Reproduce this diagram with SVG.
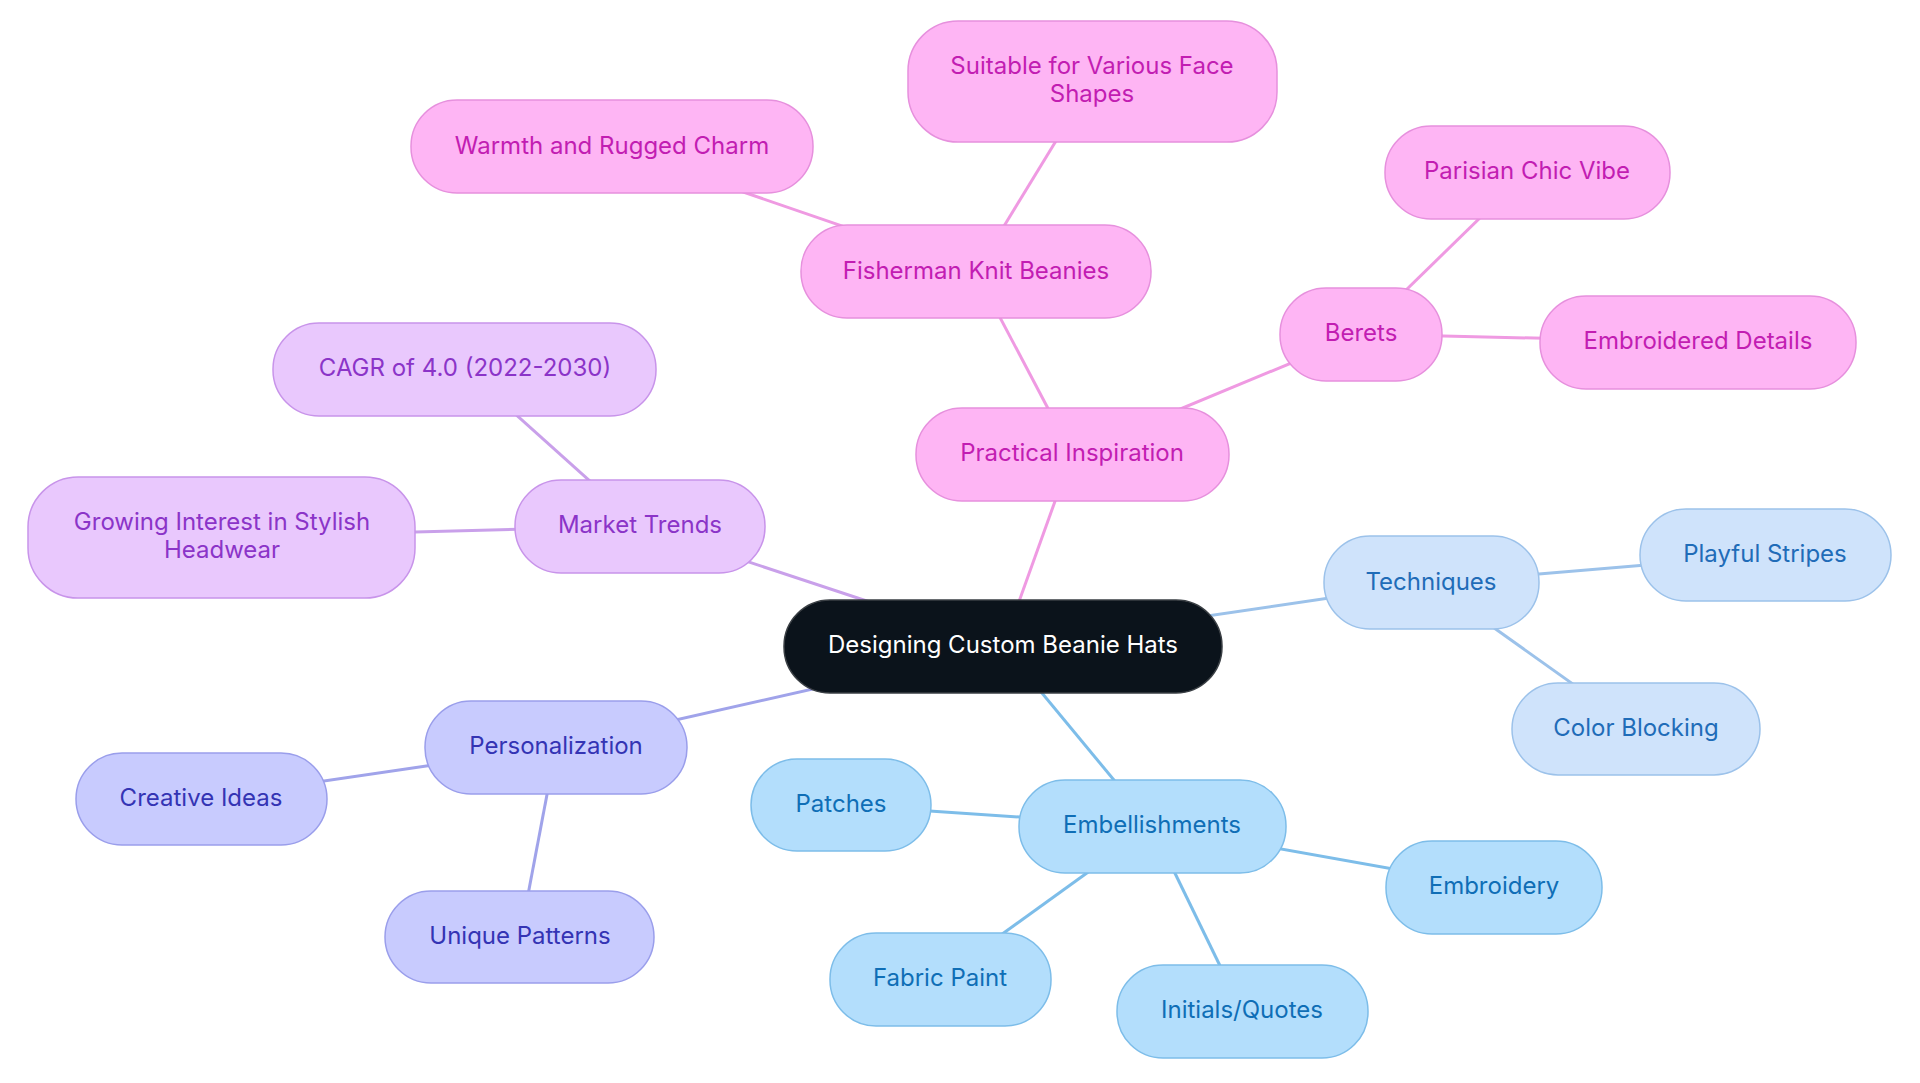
<svg xmlns="http://www.w3.org/2000/svg" width="1920" height="1083" viewBox="0 0 1920 1083">
<style>
text{font-family:Inter,"Open Sans","Liberation Sans",sans-serif;font-size:24px;text-anchor:middle;dominant-baseline:central;transform:translateY(-1.5px)}
.e{fill:none;stroke-width:3}
.pk rect{fill:#feb5f4;stroke:#e690dd;stroke-width:1.5}.pk text{fill:#c21db2}
.pu rect{fill:#e9c8fd;stroke:#c894ea;stroke-width:1.5}.pu text{fill:#8b34c8}
.in rect{fill:#c8cbfe;stroke:#9a9eeb;stroke-width:1.5}.in text{fill:#3434b4}
.lb rect{fill:#cfe3fb;stroke:#9cc2ea;stroke-width:1.5}.lb text{fill:#1f6cb8}
.sb rect{fill:#b3defc;stroke:#7dbde9;stroke-width:1.5}.sb text{fill:#0f6eb6}
</style>
<rect width="1920" height="1083" fill="#ffffff"/>
<g id="connectors">
<g stroke="#ef9ae2" class="e">
<line x1="1003" y1="646" x2="1072" y2="454"/>
<line x1="1072" y1="454" x2="976" y2="272"/>
<line x1="976" y1="272" x2="612" y2="147"/>
<line x1="976" y1="272" x2="1092" y2="82"/>
<line x1="1072" y1="454" x2="1361" y2="334"/>
<line x1="1361" y1="334" x2="1527" y2="172"/>
<line x1="1361" y1="334" x2="1698" y2="342"/>
</g>
<g stroke="#c9a0ea" class="e">
<line x1="1003" y1="646" x2="640" y2="526"/>
<line x1="640" y1="526" x2="465" y2="369"/>
<line x1="640" y1="526" x2="222" y2="537"/>
</g>
<g stroke="#a0a3ea" class="e">
<line x1="1003" y1="646" x2="556" y2="747"/>
<line x1="556" y1="747" x2="201" y2="799"/>
<line x1="556" y1="747" x2="520" y2="937"/>
</g>
<g stroke="#9cc2ea" class="e">
<line x1="1003" y1="646" x2="1431" y2="583"/>
<line x1="1431" y1="583" x2="1765" y2="555"/>
<line x1="1431" y1="583" x2="1636" y2="729"/>
</g>
<g stroke="#7dbde9" class="e">
<line x1="1003" y1="646" x2="1152" y2="826"/>
<line x1="1152" y1="826" x2="1494" y2="887"/>
<line x1="1152" y1="826" x2="1242" y2="1011"/>
<line x1="1152" y1="826" x2="841" y2="805"/>
<line x1="1152" y1="826" x2="940" y2="979"/>
</g>
</g>
<g id="center"><rect x="784" y="600" width="438" height="93" rx="46" fill="#0b131b" stroke="#3a3f44" stroke-width="1.5"/><text x="1003" y="646" fill="#ffffff">Designing Custom Beanie Hats</text></g>
<g id="practical" class="pk"><rect x="916" y="408" width="313" height="93" rx="46"/><text x="1072" y="454">Practical Inspiration</text></g>
<g id="fisherman" class="pk"><rect x="801" y="225" width="350" height="93" rx="46"/><text x="976" y="272">Fisherman Knit Beanies</text></g>
<g id="warmth" class="pk"><rect x="411" y="100" width="402" height="93" rx="46"/><text x="612" y="147">Warmth and Rugged Charm</text></g>
<g id="suitable" class="pk"><rect x="908" y="21" width="369" height="121" rx="50"/><text x="1092" y="67">Suitable for Various Face</text><text x="1092" y="95">Shapes</text></g>
<g id="berets" class="pk"><rect x="1280" y="288" width="162" height="93" rx="46"/><text x="1361" y="334">Berets</text></g>
<g id="parisian" class="pk"><rect x="1385" y="126" width="285" height="93" rx="46"/><text x="1527" y="172">Parisian Chic Vibe</text></g>
<g id="embroidered" class="pk"><rect x="1540" y="296" width="316" height="93" rx="46"/><text x="1698" y="342">Embroidered Details</text></g>
<g id="market" class="pu"><rect x="515" y="480" width="250" height="93" rx="46"/><text x="640" y="526">Market Trends</text></g>
<g id="cagr" class="pu"><rect x="273" y="323" width="383" height="93" rx="46"/><text x="465" y="369">CAGR of 4.0 (2022-2030)</text></g>
<g id="growing" class="pu"><rect x="28" y="477" width="387" height="121" rx="50"/><text x="222" y="523">Growing Interest in Stylish</text><text x="222" y="551">Headwear</text></g>
<g id="personalization" class="in"><rect x="425" y="701" width="262" height="93" rx="46"/><text x="556" y="747">Personalization</text></g>
<g id="creative" class="in"><rect x="76" y="753" width="251" height="92" rx="46"/><text x="201" y="799">Creative Ideas</text></g>
<g id="unique" class="in"><rect x="385" y="891" width="269" height="92" rx="46"/><text x="520" y="937">Unique Patterns</text></g>
<g id="techniques" class="lb"><rect x="1324" y="536" width="215" height="93" rx="46"/><text x="1431" y="583">Techniques</text></g>
<g id="playful" class="lb"><rect x="1640" y="509" width="251" height="92" rx="46"/><text x="1765" y="555">Playful Stripes</text></g>
<g id="colorblocking" class="lb"><rect x="1512" y="683" width="248" height="92" rx="46"/><text x="1636" y="729">Color Blocking</text></g>
<g id="embellishments" class="sb"><rect x="1019" y="780" width="267" height="93" rx="46"/><text x="1152" y="826">Embellishments</text></g>
<g id="embroidery" class="sb"><rect x="1386" y="841" width="216" height="93" rx="46"/><text x="1494" y="887">Embroidery</text></g>
<g id="initials" class="sb"><rect x="1117" y="965" width="251" height="93" rx="46"/><text x="1242" y="1011">Initials/Quotes</text></g>
<g id="patches" class="sb"><rect x="751" y="759" width="180" height="92" rx="46"/><text x="841" y="805">Patches</text></g>
<g id="fabric" class="sb"><rect x="830" y="933" width="221" height="93" rx="46"/><text x="940" y="979">Fabric Paint</text></g>
</svg>
